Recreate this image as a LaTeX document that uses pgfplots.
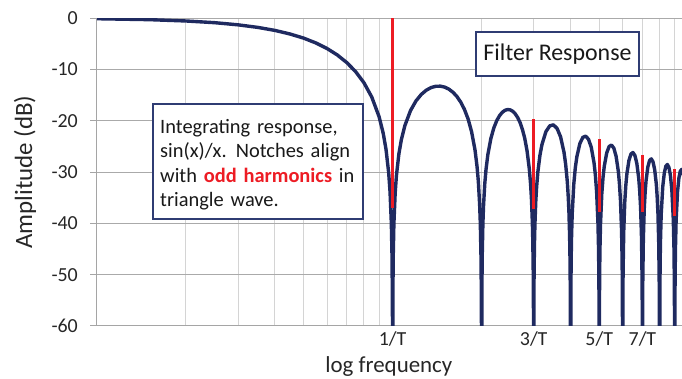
\documentclass[border=0pt]{standalone}
\usepackage{fontspec}
\setmainfont{Carlito}
\usepackage{pgfplots}
\usepackage{pgfplotstable}
\pgfplotsset{compat=1.18}
\definecolor{navy}{RGB}{31,42,96}
\definecolor{boxnavy}{RGB}{47,60,115}
\definecolor{hred}{RGB}{237,28,36}
\definecolor{hgrid}{RGB}{170,170,170}
\definecolor{vgrid}{RGB}{212,212,212}
\definecolor{axgray}{RGB}{165,165,165}

% sin(x)/x response in dB, x = f*T (notch value -100 is clipped at -60)
\pgfplotstableread{
x y
0.1 -0.14
0.15 -0.32
0.2 -0.58
0.25 -0.91
0.3 -1.33
0.35 -1.83
0.4 -2.42
0.45 -3.12
0.5 -3.92
0.55 -4.86
0.6 -5.94
0.65 -7.20
0.7 -8.69
0.75 -10.45
0.8 -12.62
0.85 -15.39
0.9 -19.23
0.93 -22.54
0.95 -25.61
0.97 -30.21
0.98 -33.81
0.99 -39.91
0.995 -45.98
0.998 -53.96
0.999 -59.99
1 -100
1.002 -54.00
1.005 -46.06
1.01 -40.09
1.02 -34.16
1.03 -30.73
1.05 -26.48
1.07 -23.76
1.1 -20.97
1.15 -18.02
1.2 -16.14
1.25 -14.89
1.3 -14.06
1.35 -13.55
1.4 -13.30
1.45 -13.28
1.5 -13.46
1.55 -13.86
1.6 -14.46
1.65 -15.29
1.7 -16.39
1.75 -17.81
1.8 -19.66
1.85 -22.15
1.9 -25.72
1.93 -28.88
1.95 -31.86
1.97 -36.36
1.98 -39.92
1.99 -45.98
1.995 -52.02
1.998 -59.99
2 -100
2.005 -52.06
2.01 -46.07
2.02 -40.09
2.03 -36.62
2.05 -32.29
2.07 -29.49
2.1 -26.59
2.15 -23.45
2.2 -21.41
2.25 -20.00
2.3 -19.02
2.35 -18.37
2.4 -17.98
2.45 -17.83
2.5 -17.90
2.55 -18.18
2.6 -18.68
2.65 -19.41
2.7 -20.41
2.75 -21.74
2.8 -23.50
2.85 -25.90
2.9 -29.39
2.93 -32.51
2.95 -35.45
2.97 -39.93
2.98 -43.47
2.99 -49.51
2.995 -55.55
3 -100
3.005 -55.58
3.01 -49.57
3.02 -43.59
3.03 -40.10
3.05 -35.74
3.07 -32.91
3.1 -29.97
3.15 -26.77
3.2 -24.66
3.3 -22.15
3.4 -21.01
3.5 -20.82
3.6 -21.51
3.7 -23.15
3.8 -26.16
3.85 -28.51
3.9 -31.96
3.93 -35.06
3.95 -37.99
3.97 -42.45
3.98 -45.98
3.99 -52.02
3.995 -58.05
4 -100
4.01 -52.06
4.02 -46.07
4.03 -42.58
4.05 -38.21
4.1 -32.40
4.15 -29.16
4.2 -27.02
4.3 -24.45
4.4 -23.25
4.5 -23.01
4.6 -23.63
4.7 -25.23
4.8 -28.18
4.85 -30.52
4.9 -33.95
4.95 -39.95
4.97 -44.40
4.98 -47.93
4.99 -53.96
5 -100
5.01 -54.00
5.02 -48.00
5.03 -44.50
5.05 -40.12
5.1 -34.29
5.15 -31.04
5.2 -28.88
5.3 -26.27
5.4 -25.03
5.5 -24.75
5.6 -25.34
5.7 -26.90
5.8 -29.83
5.85 -32.15
5.9 -35.56
5.95 -41.55
5.97 -45.99
5.98 -49.52
5.99 -55.55
6 -100
6.01 -55.58
6.02 -49.58
6.05 -41.69
6.1 -35.85
6.15 -32.58
6.2 -30.41
6.3 -27.77
6.4 -26.50
6.5 -26.20
6.6 -26.77
6.7 -28.31
6.8 -31.21
6.85 -33.52
6.9 -36.92
6.95 -42.90
6.98 -50.86
6.99 -56.89
7 -100
7.01 -56.92
7.02 -50.91
7.05 -43.02
7.1 -37.17
7.15 -33.89
7.2 -31.71
7.3 -29.05
7.4 -27.76
7.5 -27.44
7.6 -28.00
7.7 -29.51
7.8 -32.40
7.85 -34.70
7.9 -38.10
7.95 -44.06
7.98 -52.03
7.99 -58.05
8 -100
8.02 -52.07
8.05 -44.17
8.1 -38.31
8.2 -32.84
8.3 -30.17
8.4 -28.87
8.5 -28.53
8.6 -29.07
8.7 -30.57
8.8 -33.45
8.9 -39.13
8.95 -45.09
8.98 -53.05
9 -100
9.02 -53.09
9.05 -45.19
9.1 -39.32
9.2 -33.84
9.3 -31.15
9.4 -29.84
9.5 -29.50
9.6 -30.02
9.7 -31.52
9.8 -34.38
9.9 -40.06
9.95 -46.01
9.98 -53.97
10 -100
}\curve

\begin{document}
\begin{tikzpicture}
\useasboundingbox (0,0) rectangle (682bp,379bp);
\begin{axis}[
  at={(97bp,53bp)}, anchor=south west,
  scale only axis, width=586bp, height=308bp,
  xmode=log, xmin=0.1, xmax=9.6, ymin=-60, ymax=0,
  axis x line*=bottom, axis y line*=left,
  axis line style={axgray, line width=1bp},
  xtick={1,3,5,7}, xticklabels={1/T,3/T,5/T,7/T},
  minor xtick={0.2,0.3,0.4,0.5,0.6,0.7,0.8,0.9,1,2,3,4,5,6,7,8,9},
  xminorgrids=true, xmajorgrids=false,
  minor x grid style={vgrid, line width=1bp},
  ytick={-60,-50,-40,-30,-20,-10,0},
  ymajorgrids=true,
  major y grid style={hgrid, line width=1bp},
  tick align=outside, major tick length=7bp, minor tick length=0pt,
  xtick style={draw=none},
  ytick style={axgray, line width=1bp},
  /pgf/number format/assume math mode=true,
  ticklabel style={font=\fontsize{20}{24}\selectfont, text=black!85},
  yticklabel style={inner sep=0pt, xshift=-12bp},
  xticklabel style={inner sep=0pt, yshift=2bp},
  xlabel={log frequency}, ylabel={Amplitude (dB)},
  xlabel style={font=\fontsize{23}{27}\selectfont, text=black!85,
                at={(axis description cs:0.498,-0.133)}, anchor=center},
  ylabel style={font=\fontsize{25}{29}\selectfont, text=black!85,
                at={(axis description cs:-0.123,0.5)}, anchor=center, rotate=0},
]
\addplot[navy, line width=3.4bp, line join=round] table[x=x, y=y] {\curve};
\addplot[hred, line width=3bp] coordinates {(1,0) (1,-37)};
\addplot[hred, line width=3bp] coordinates {(3,-19.7) (3,-37.3)};
\addplot[hred, line width=3bp] coordinates {(5,-23.6) (5,-37.8)};
\addplot[hred, line width=3bp] coordinates {(7,-26.6) (7,-37.8)};
\addplot[hred, line width=3bp] coordinates {(9,-29.4) (9,-38.6)};
\end{axis}
\draw[boxnavy, line width=1.2bp, fill=white] (153bp,275bp) rectangle (363bp,160bp);
\node[anchor=north west, align=left,
      inner xsep=7bp, inner ysep=11bp, text width=195bp,
      font=\fontsize{20.5}{24.5}\selectfont, text=black!90]
  at (153bp,271bp) {Integrating response,\\sin(x)/x.\hspace{0.45em}Notches align\\with \textcolor{hred}{\textbf{odd harmonics}} in\\triangle wave.};
\node[draw=boxnavy, line width=1.2bp, fill=white, minimum width=163bp, minimum height=44bp,
      inner sep=0pt, font=\fontsize{24}{28}\selectfont, text=black!90]
  at (557.5bp,325bp) {Filter Response};
\end{tikzpicture}
\end{document}
